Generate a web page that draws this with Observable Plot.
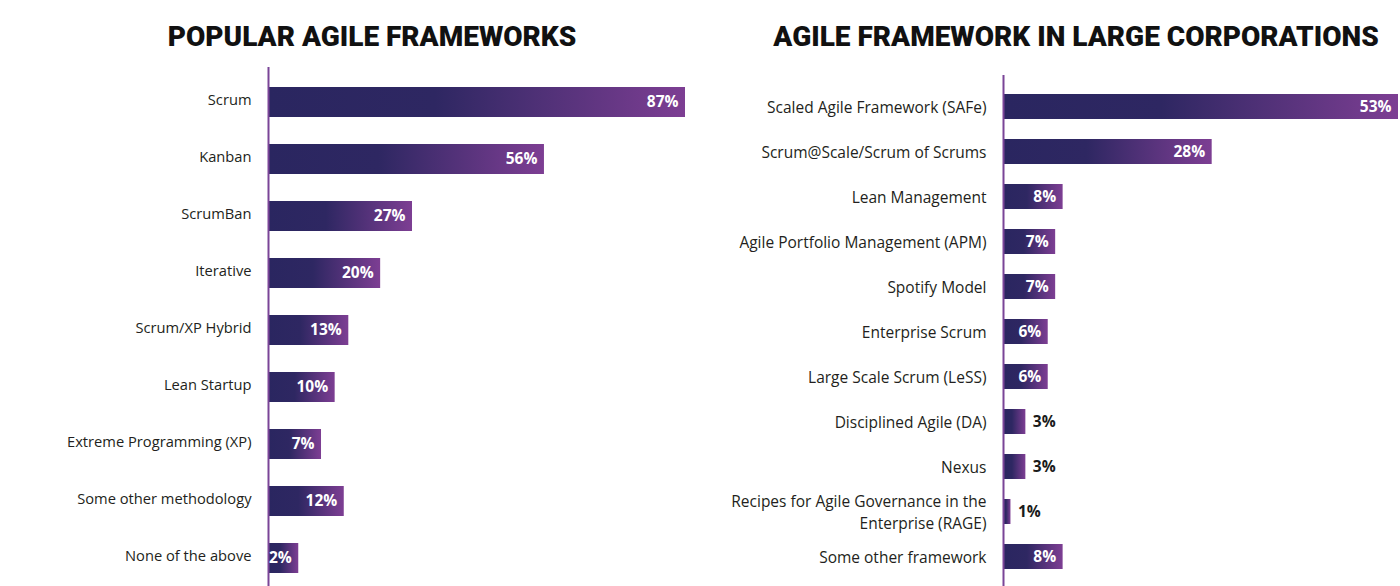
<!DOCTYPE html>
<html>
<head>
<meta charset="utf-8">
<script src="https://cdn.jsdelivr.net/npm/d3@7"></script>
<script src="https://cdn.jsdelivr.net/npm/@observablehq/plot@0.6"></script>
<style>
  html, body { margin: 0; padding: 0; background: #fff; overflow: hidden; }
  #page { position: relative; width: 1400px; height: 586px; }
  .title { position: absolute; top: 17px; font-family: Roboto, sans-serif; font-weight: 900;
           font-size: 28px; color: #111; letter-spacing: 0px; white-space: nowrap; transform: translateX(-50%); line-height: 40px; }
  .chart { position: absolute; top: 62px; }
</style>
</head>
<body>
<div id="page">
  <div class="title" id="t1" style="left:372px">POPULAR AGILE FRAMEWORKS</div>
  <div class="title" id="t2" style="left:1076px">AGILE FRAMEWORK IN LARGE CORPORATIONS</div>
  <div class="chart" id="c1" style="left:0px"></div>
  <div class="chart" id="c2" style="left:700px"></div>
</div>
<script>
// ---- Data ----
const leftTitle = "POPULAR AGILE FRAMEWORKS";
const leftCategories = ["Scrum", "Kanban", "ScrumBan", "Iterative", "Scrum/XP Hybrid", "Lean Startup",
  "Extreme Programming (XP)", "Some other methodology", "None of the above"];
const leftValues = [87, 56, 27, 20, 13, 10, 7, 12, 2];

const rightTitle = "AGILE FRAMEWORK IN LARGE CORPORATIONS";
const rightCategories = ["Scaled Agile Framework (SAFe)", "Scrum@Scale/Scrum of Scrums", "Lean Management",
  "Agile Portfolio Management (APM)", "Spotify Model", "Enterprise Scrum", "Large Scale Scrum (LeSS)",
  "Disciplined Agile (DA)", "Nexus", "Recipes for Agile Governance in the\nEnterprise (RAGE)", "Some other framework"];
const rightValues = [53, 28, 8, 7, 7, 6, 6, 3, 3, 1, 8];

function gradientDefs(id) {
  return `<defs><linearGradient id="${id}" x1="0" x2="1" y1="0" y2="0">
    <stop offset="0" stop-color="#2a2660"/>
    <stop offset="0.4" stop-color="#2e2762"/>
    <stop offset="1" stop-color="#7d3e93"/>
  </linearGradient></defs>`;
}

function makeChart({cats, vals, xDomain, width, height, marginLeft, marginRight, marginTop,
                    yRange, pi, po, labelSize, labelDy, gradId, outsideMax}) {
  const data = cats.map((c, i) => ({c, v: vals[i]}));
  const x0 = xDomain[0];
  const inside = data.filter(d => d.v > outsideMax);
  const outside = data.filter(d => d.v <= outsideMax);
  const svg = Plot.plot({
    width, height, marginLeft, marginRight, marginTop, marginBottom: 0,
    style: {background: "transparent", fontFamily: "'Open Sans', sans-serif"},
    x: {domain: xDomain, range: [marginLeft, width - marginRight], axis: null},
    y: {domain: cats, range: yRange, paddingInner: pi, paddingOuter: po, axis: null},
    marks: [
      Plot.barX(data, {x1: () => x0, x2: "v", y: "c", fill: `url(#${gradId})`}),
      Plot.ruleX([x0], {stroke: "#7a4597", strokeWidth: 2}),
      Plot.text(data, {x: () => x0, y: "c", text: "c", textAnchor: "end", dx: -17, dy: labelDy,
        fontSize: labelSize, fill: "#231f20", lineHeight: 1.4}),
      Plot.text(inside, {x: "v", y: "c", text: d => d.v + "%", textAnchor: "end", dx: -7,
        fill: "#ffffff", fontWeight: 700, fontSize: 15.5}),
      Plot.text(outside, {x: "v", y: "c", text: d => d.v + "%", textAnchor: "start", dx: 7,
        fill: "#1b1b1b", fontWeight: 700, fontSize: 15.5})
    ]
  });
  svg.insertAdjacentHTML("afterbegin", gradientDefs(gradId));
  return svg;
}

document.getElementById("c1").append(makeChart({
  cats: leftCategories, vals: leftValues, xDomain: [-4.65, 87],
  width: 700, height: 540, marginLeft: 268, marginRight: 15, marginTop: 5,
  yRange: [5, 531], pi: 0.474, po: 0.35, labelSize: 14.7, labelDy: -4,
  gradId: "gradL", outsideMax: 0
}));

document.getElementById("c2").append(makeChart({
  cats: rightCategories, vals: rightValues, xDomain: [0, 53],
  width: 700, height: 540, marginLeft: 303, marginRight: 2, marginTop: 13,
  yRange: [13, 525], pi: 0.448, po: 0.375, labelSize: 15.5, labelDy: -1,
  gradId: "gradR", outsideMax: 3
}));
</script>
</body>
</html>
